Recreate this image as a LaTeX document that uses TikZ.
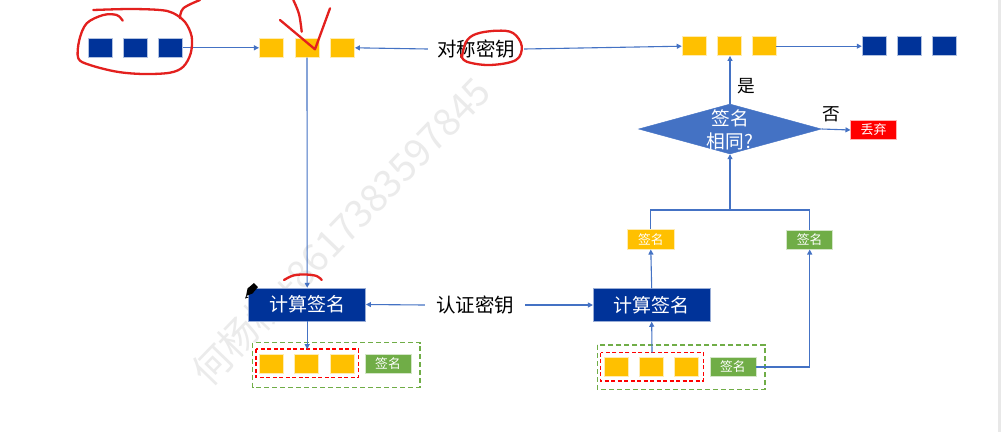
\documentclass[tikz,border=0pt]{standalone}
\usepackage{fontspec}
\setmainfont{Noto Sans CJK SC}
\usetikzlibrary{arrows.meta,shapes.geometric}
\definecolor{dblue}{HTML}{003399}
\definecolor{ylw}{HTML}{FFC000}
\definecolor{grn}{HTML}{70AD47}
\definecolor{lblue}{HTML}{4472C4}
\definecolor{annred}{HTML}{E3201E}
\begin{document}
\begin{tikzpicture}[x=1pt,y=-1pt,
  bsq/.style={draw=white!70!dblue,line width=0.5pt,fill=dblue,minimum width=24pt,minimum height=19pt,inner sep=0pt},
  ysq/.style={draw=white!70!ylw,line width=0.5pt,fill=ylw,minimum width=24pt,minimum height=19pt,inner sep=0pt},
  tagbox/.style={draw=white!70!#1,line width=0.5pt,fill=#1,text=white,inner sep=0pt,font=\fontsize{12.8}{14}\selectfont},
  calcbox/.style={draw=white!60!dblue,line width=0.5pt,fill=dblue,text=white,minimum width=117pt,minimum height=33pt,inner sep=0pt,font=\fontsize{19}{22}\selectfont},
  keytext/.style={inner xsep=9pt,inner ysep=2pt,font=\fontsize{19.5}{22}\selectfont},
  arr/.style={draw=lblue,line width=1.1pt,-{Triangle[length=5pt,width=5pt]}},
  ln/.style={draw=lblue,line width=1.1pt},
  reddash/.style={draw=red,dashed,line width=1.3pt,dash pattern=on 4pt off 2.5pt},
  grndash/.style={draw=grn,line width=1.3pt,dash pattern=on 5pt off 3pt},
  ann/.style={draw=annred,line width=2.3pt,line cap=round,line join=round},
  lbl/.style={font=\fontsize{17.7}{20}\selectfont,inner sep=0pt}]
\useasboundingbox (0,0) rectangle (1004,432);
\fill[white] (0,0) rectangle (1004,432);
\fill[gray!18] (998,0) rectangle (1000.5,432);

% watermark
\node[rotate=46,text=gray!16,font=\fontsize{38}{38}\selectfont,inner sep=0pt] (wm) at (341,231) {何杨柳+8617383597845};

% top row
\node[bsq] (b1) at (100.3,47.8) {};
\node[bsq] (b2) at (135.3,47.8) {};
\node[bsq] (b3) at (170.7,47.8) {};
\node[ysq] (y1) at (271.2,47.8) {};
\node[ysq] (y2) at (307.0,47.8) {};
\node[ysq] (y3) at (342.7,47.8) {};
\node[keytext] (k1) at (476,49) {对称密钥};
\node[ysq] (ry1) at (694,46.2) {};
\node[ysq] (ry2) at (729,46.2) {};
\node[ysq] (ry3) at (764,46.2) {};
\node[bsq] (rb1) at (874,46.2) {};
\node[bsq] (rb2) at (909.3,46.2) {};
\node[bsq] (rb3) at (944.5,46.2) {};

\draw[arr] (b3.east) -- (y1.west);
\draw[arr] (k1.west) -- (y3.east);
\draw[arr] (k1.east) -- (ry1.west);
\draw[arr] (ry3.east) -- (rb1.west);

% diamond
\node[diamond,fill=lblue,draw=lblue,minimum width=183pt,minimum height=50pt,inner sep=0pt] (d) at (730,129) {};
\node[text=white,align=center,font=\fontsize{18.7}{23}\selectfont,inner sep=0pt] (dt) at (730,130) {签名\\相同?};
\node[tagbox=red,minimum width=46pt,minimum height=18.6pt,font=\fontsize{13}{14}\selectfont] (disc) at (873.7,130) {丢弃};
\node[lbl] (yes) at (746.7,85.7) {是};
\node[lbl] (no) at (831.7,114.3) {否};
\draw[arr] (d.north) -- (d.north |- ry2.south);
\draw[arr] (d.east) -- (disc.west);

% signature tags middle right
\node[tagbox=ylw,minimum width=47pt,minimum height=20pt] (ys) at (650.8,239.3) {签名};
\node[tagbox=grn,minimum width=46pt,minimum height=19.3pt] (gs) at (809.7,239.6) {签名};
\coordinate (jl) at (650.8,210);
\coordinate (jr) at (809.7,210);
\draw[ln] (ys.north) -- (jl) -- (jr) -- (gs.north);
\draw[arr] (d.south |- jl) -- (d.south);

% calc boxes
\node[calcbox] (c1) at (307.2,304.5) {计算签名};
\node[calcbox] (c2) at (651.7,305) {计算签名};
\node[keytext,inner xsep=11pt] (k2) at (475,305) {认证密钥};
\draw[arr] (y2.south) -- (c1.north);
\draw[arr] (k2.west) -- (c1.east);
\draw[arr] (k2.east) -- (c2.west);
\draw[arr] (c2.north) -- (ys.south);

% left group
\node[draw=none,minimum width=167.3pt,minimum height=44.6pt,inner sep=0pt] (gL) at (336.35,365) {};
\draw[grndash] (252.7,342.7) rectangle (420,387.3);
\node[draw=none,minimum width=102.3pt,minimum height=28pt,inner sep=0pt] (rL) at (307.2,363.3) {};
\draw[reddash] (rL.north west) rectangle (rL.south east);
\node[ysq] (ly1) at (271.2,363.8) {};
\node[ysq] (ly2) at (306.3,363.8) {};
\node[ysq] (ly3) at (342,363.8) {};
\node[tagbox=grn,minimum width=46pt,minimum height=19pt] (lg) at (388,363.8) {签名};
\draw[arr] (c1.south) -- (rL.north);

% right group
\draw[grndash] (597.3,345) rectangle (765,389.3);
\node[draw=none,minimum width=102.6pt,minimum height=28pt,inner sep=0pt] (rR) at (652,366.7) {};
\draw[reddash] (rR.north west) rectangle (rR.south east);
\node[ysq] (ry1b) at (615.8,366.7) {};
\node[ysq] (ry2b) at (651.2,366.7) {};
\node[ysq] (ry3b) at (686.5,366.7) {};
\node[tagbox=grn,minimum width=46pt,minimum height=19.4pt] (rg) at (732.9,367) {签名};
\draw[arr] (rR.north) -- (c2.south);
\draw[arr] (rg.east) -| (gs.south);

% red annotations
\draw[ann] plot[smooth,tension=0.55] coordinates {(93.3,10) (130,9) (160,10) (173,13) (185,22) (191.7,36.7) (190.7,53.3) (183.3,66.7) (170,72.7) (143.3,74) (116.7,71.7) (90,65) (78.3,58.3) (79.3,40) (86.7,23.3) (103.3,15) (116.7,15) (122.7,20.7)};
\draw[ann] plot[smooth,tension=0.6] coordinates {(180,18.3) (183.3,8.3) (200,0)};
\draw[ann] plot[smooth,tension=0.6] coordinates {(293.3,0) (299,14) (301.7,31.7)};
\draw[ann] (280,20) -- (315,49.3) -- (330,8.3);
\draw[ann] plot[smooth,tension=0.6] coordinates {(462,57) (466,42) (476,34) (496.7,30.7) (513,33) (521.7,46) (516,60) (490,65) (466.7,61.7) (461,55)};
\draw[ann] plot[smooth,tension=0.6] coordinates {(284,280) (293.3,275.5) (305,274.5) (316.7,276) (321.7,280)};
% pen icon
\fill[black] (246,296) -- (247.5,288.5) -- (254,283) -- (258,287) -- (252.5,293.5) -- cycle;
\fill[black] (246,296) -- (245,298.5) -- (248.5,297.5) -- cycle;
\end{tikzpicture}
\end{document}
